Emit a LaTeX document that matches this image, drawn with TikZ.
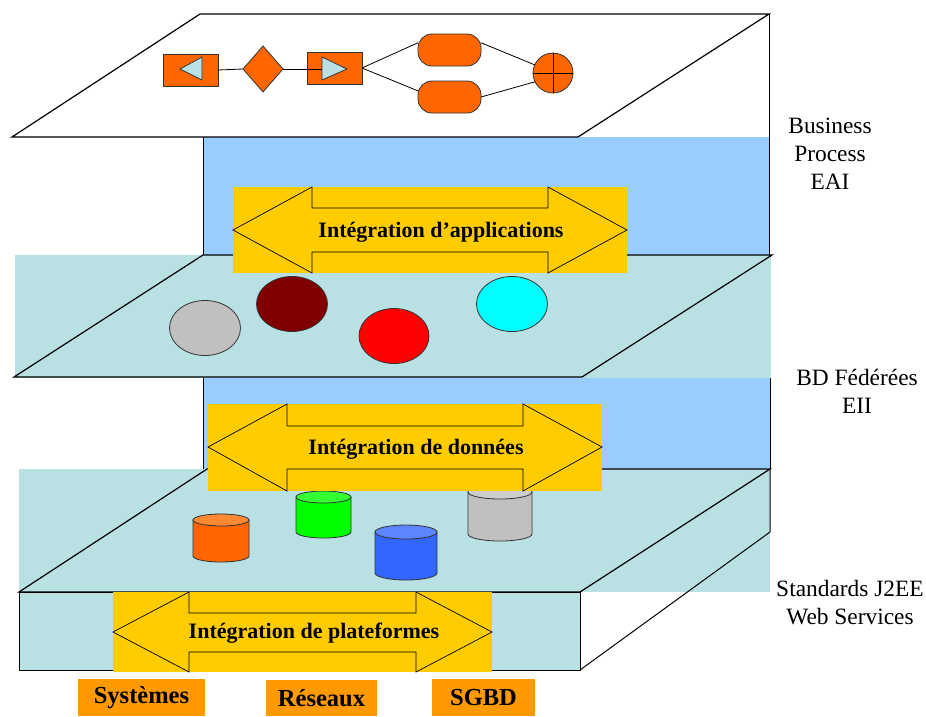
\documentclass[tikz,border=0pt]{standalone}
\usepackage{fontspec}
\setmainfont{Liberation Serif}
\usetikzlibrary{shapes.geometric}
\definecolor{planecyan}{HTML}{B9E0E3}
\definecolor{layerblue}{HTML}{99CCFF}
\definecolor{arrowyellow}{HTML}{FFCC00}
\definecolor{bpmorange}{HTML}{FF6600}
\definecolor{labelorange}{HTML}{FF9900}
\definecolor{darkred}{HTML}{800000}
\definecolor{diskred}{HTML}{FF0000}
\definecolor{diskcyan}{HTML}{00FFFF}
\definecolor{cylorange}{HTML}{FF6600}
\definecolor{cylorangetop}{HTML}{FF8833}
\definecolor{cylgreen}{HTML}{00FF00}
\definecolor{cylgreentop}{HTML}{33FF33}
\definecolor{cylblue}{HTML}{3366FF}
\definecolor{cylbluetop}{HTML}{5C85FF}
\definecolor{cylgray}{HTML}{C0C0C0}
\definecolor{cylgraytop}{HTML}{CCCCCC}
\tikzset{
  planeline/.style={draw=black, line width=1.2pt, line join=miter},
  edgeline/.style={draw=black, line width=1pt},
  bpmbox/.style={draw=black!80, fill=bpmorange, line width=0.8pt, inner sep=0pt, outer sep=0pt},
  bpmtri/.style={draw=black!80, fill=planecyan, line width=0.8pt},
  bpmlink/.style={draw=black, line width=0.8pt},
  dblarrow/.style={draw=black, line width=0.7pt, line join=miter},
  arrowtext/.style={font=\fontsize{22}{26}\selectfont\bfseries, inner sep=0pt},
  sidelabel/.style={font=\fontsize{23.4}{28}\selectfont, align=center, inner sep=0pt},
  techbox/.style={fill=labelorange, font=\fontsize{24.5}{28}\selectfont\bfseries, inner sep=0pt},
  dbdisk/.style={draw=black!80, line width=0.8pt},
  cylline/.style={draw=black!80, line width=0.8pt}
}
\newcommand{\dbcyl}[7]{%
  \filldraw[cylline, fill=#6] ({#1-#4},#2) -- ({#1-#4},#3)
     arc[start angle=180, end angle=360, x radius=#4pt, y radius=#5pt] -- ({#1+#4},#2) -- cycle;
  \filldraw[cylline, fill=#7] (#1,#2) ellipse[x radius=#4pt, y radius=#5pt];
}
\begin{document}
\begin{tikzpicture}[x=1pt, y=-1pt]
\useasboundingbox (0,0) rectangle (926,716);

% ---------- backgrounds ----------
\fill[planecyan] (19,469) rectangle (770,592);
\fill[layerblue] (203,378) rectangle (770,469);
\fill[planecyan] (15,255) rectangle (771,378);
\fill[layerblue] (203,137) rectangle (769,255);

% layer edges
\draw[edgeline] (203,137) -- (203,255);
\draw[edgeline] (769,14) -- (769,255);
\draw[edgeline] (203,378) -- (203,469);
\draw[edgeline] (770,378) -- (770,469);

% ---------- top plane ----------
\filldraw[planeline, fill=white] (200,14) -- (769,14) -- (578,137) -- (12,137) -- cycle;

% ---------- middle plane ----------
\draw[planeline] (203,255) -- (772,255) -- (582,377) -- (14,377) -- cycle;

% ---------- bottom plane (box) ----------
\draw[planeline] (207,469) -- (770,469) -- (580,592) -- (19,592) -- cycle;
\filldraw[edgeline, fill=planecyan] (19,592) rectangle (580,670);
\draw[edgeline] (770,469) -- (770,532) -- (580,670);

% ---------- business process on top plane ----------
\node[bpmbox, minimum width=55pt, minimum height=32pt] (r1) at (190.5,70) {};
\node[bpmbox, diamond, minimum width=40pt, minimum height=46pt] (dia) at (263,69) {};
\node[bpmbox, minimum width=55pt, minimum height=32pt] (r2) at (334.5,68) {};
\node[bpmbox, rounded corners=14pt, minimum width=63pt, minimum height=32pt] (rr1) at (449.5,50) {};
\node[bpmbox, rounded corners=14pt, minimum width=63pt, minimum height=32pt] (rr2) at (449.5,97) {};
\node[bpmbox, circle, minimum size=40pt] (join) at (553,73) {};
\draw[bpmlink] (join.north) -- (join.south) (join.west) -- (join.east);
\filldraw[bpmtri] (180,69) -- (202,57) -- (202,80) -- cycle;
\filldraw[bpmtri] (322,57) -- (322,80) -- (347,69) -- cycle;
\coordinate (t2) at (322,69);
\draw[bpmlink] (r1.east) -- (dia.west);
\draw[bpmlink] (dia.east) -- (t2);
\draw[bpmlink] (r2.east) -- (rr1.167);
\draw[bpmlink] (r2.east) -- (rr2.169);
\draw[bpmlink] (rr1.13) -- (join.156);
\draw[bpmlink] (rr2.east) -- (join.206);

% ---------- databases on middle plane ----------
\filldraw[dbdisk, fill=cylgray] (205,328) ellipse[x radius=35.5pt, y radius=27.5pt];
\filldraw[dbdisk, fill=darkred] (292,304) ellipse[x radius=35.5pt, y radius=27.5pt];
\filldraw[dbdisk, fill=diskred] (394,336) ellipse[x radius=35pt, y radius=27.5pt];
\filldraw[dbdisk, fill=diskcyan] (512,304) ellipse[x radius=35.5pt, y radius=27.5pt];

% ---------- cylinders on bottom plane ----------
\dbcyl{221}{520}{556}{28}{6}{cylorange}{cylorangetop}
\dbcyl{323.5}{497}{532}{27.5}{6}{cylgreen}{cylgreentop}
\dbcyl{406}{532}{573}{31}{7}{cylblue}{cylbluetop}
\dbcyl{500}{492}{534}{32}{7}{cylgray}{cylgraytop}

% ---------- integration arrows ----------
\fill[arrowyellow] (233,187) rectangle (627,273);
\draw[dblarrow] (233,230) -- (312,187) -- (312,208) -- (548,208) -- (548,187) -- (627,230)
  -- (548,273) -- (548,252) -- (312,252) -- (312,273) -- cycle;
\node[arrowtext] (a1) at (441,232) {Intégration d’applications};

\fill[arrowyellow] (208,404) rectangle (602,491);
\draw[dblarrow] (208,447) -- (287,404) -- (287,426) -- (523,426) -- (523,404) -- (602,447)
  -- (523,491) -- (523,469) -- (287,469) -- (287,491) -- cycle;
\node[arrowtext] (a2) at (416,449) {Intégration de données};

\fill[arrowyellow] (113,592) rectangle (492,672);
\draw[dblarrow] (113,632) -- (189,592) -- (189,613) -- (416,613) -- (416,592) -- (492,632)
  -- (416,672) -- (416,652) -- (189,652) -- (189,672) -- cycle;
\node[arrowtext] (a3) at (314,633) {Intégration de plateformes};

% ---------- side labels ----------
\node[sidelabel] (l1) at (830,154) {Business\\Process\\EAI};
\node[sidelabel] (l2) at (857,391) {BD Fédérées\\EII};
\node[sidelabel] (l3) at (850,603) {Standards J2EE\\Web Services};

% ---------- technology boxes ----------
\node[techbox, minimum width=127pt, minimum height=37pt] (sys) at (141.5,697.5) {\raisebox{-2pt}{Systèmes}};
\node[techbox, minimum width=111pt, minimum height=36pt] (res) at (321.5,698) {\raisebox{-2pt}{Réseaux}};
\node[techbox, minimum width=103pt, minimum height=37pt] (sgbd) at (483.5,697.5) {\raisebox{-2pt}{SGBD}};
\end{tikzpicture}
\end{document}
